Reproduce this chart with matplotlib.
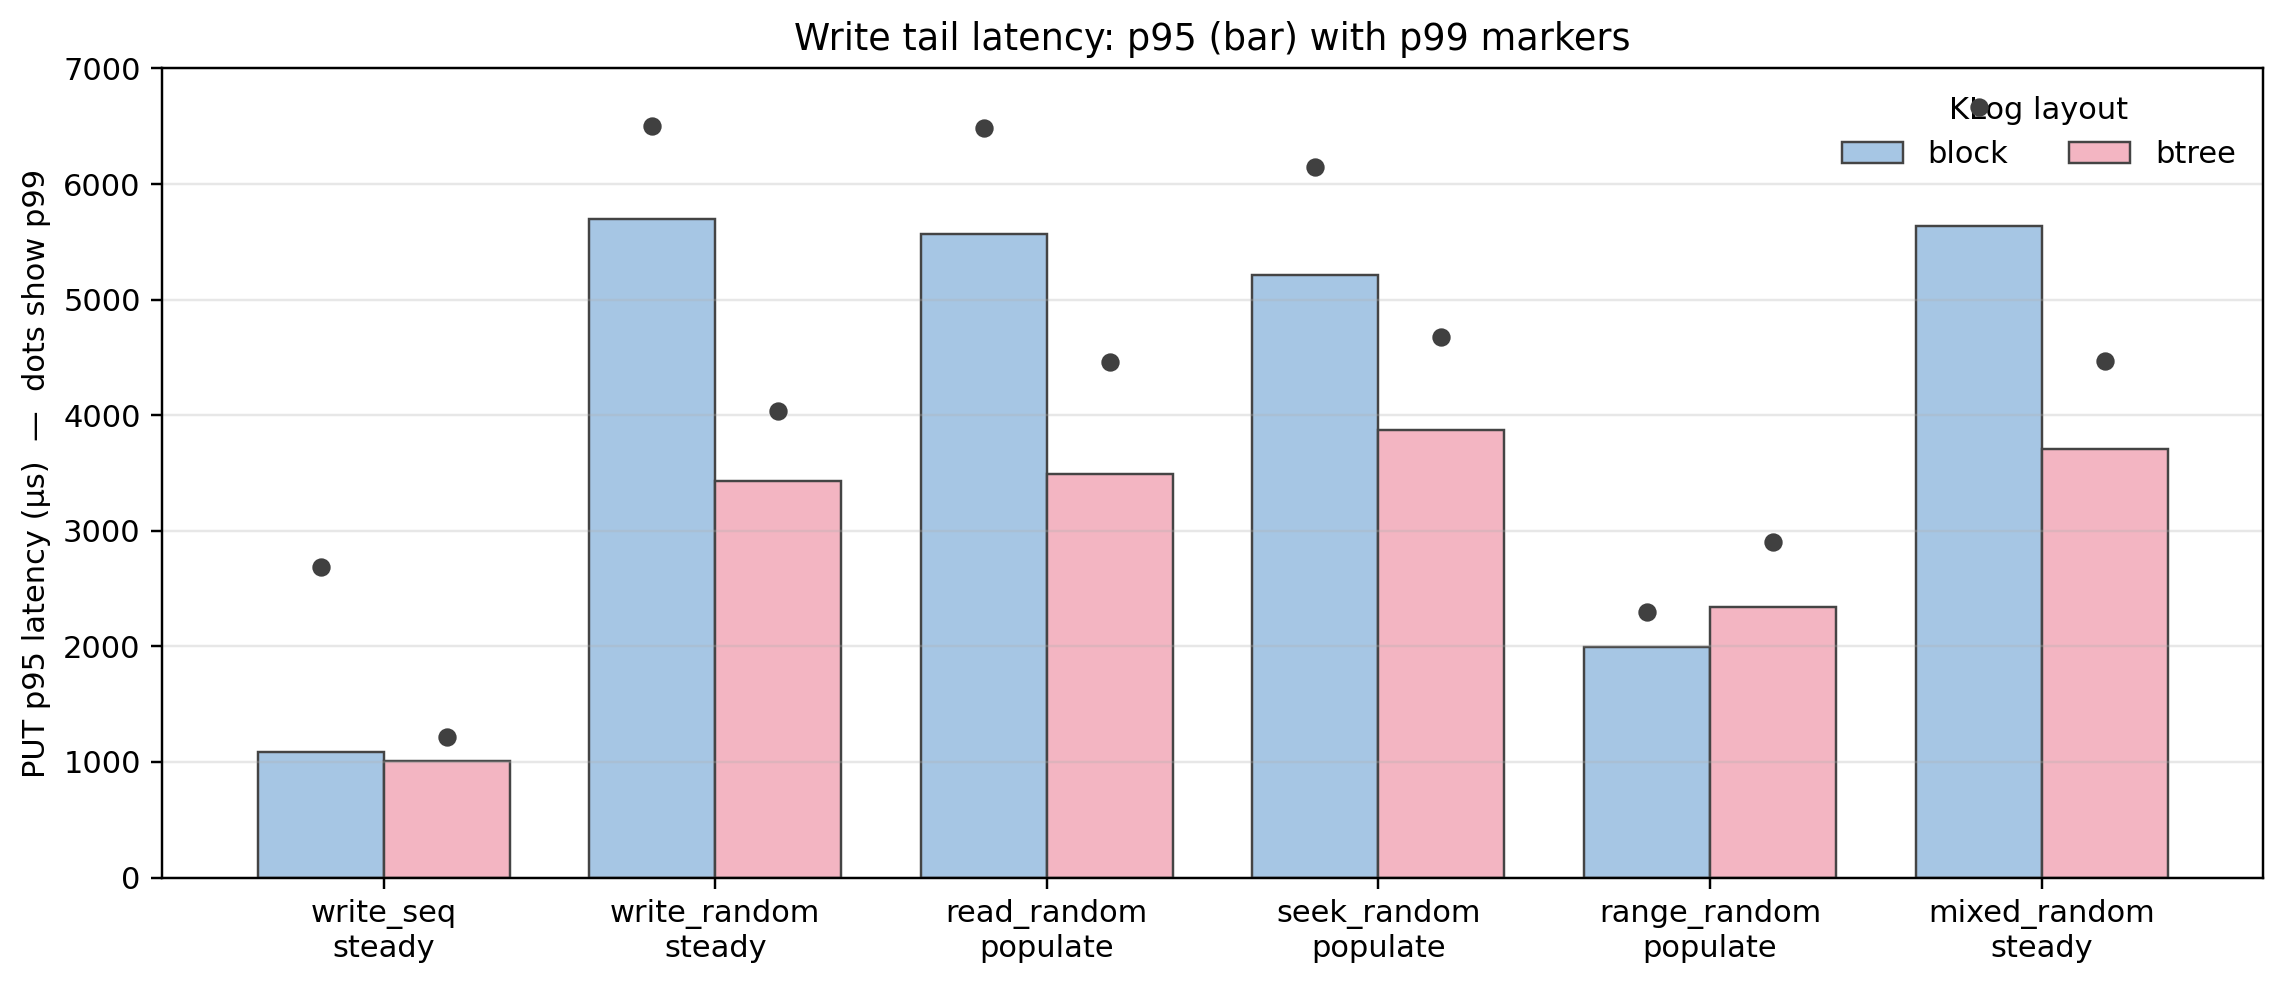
import matplotlib.pyplot as plt
import numpy as np

workloads = ['write_seq\nsteady', 'write_random\nsteady', 'read_random\npopulate',
             'seek_random\npopulate', 'range_random\npopulate', 'mixed_random\nsteady']
layouts = ['block', 'btree']

# p95 (bars) and p99 (dots), microseconds
p95_block = [1090, 5700, 5570, 5210, 1995, 5640]
p95_btree = [1010, 3430, 3490, 3870, 2340, 3710]
p99_block = [2690, 6500, 6485, 6150, 2300, 6665]
p99_btree = [1220, 4040, 4460, 4680, 2900, 4470]

colors = {'block': '#a6c6e4', 'btree': '#f3b5c2'}

fig, ax = plt.subplots(figsize=(2286 / 220, 985 / 220), dpi=220)
fig.subplots_adjust(left=0.0709, right=0.990, top=0.9305, bottom=0.1091)

x = np.arange(len(workloads))
width = 0.38

ax.bar(x - width / 2, p95_block, width, color=colors['block'], edgecolor='#444444',
       linewidth=0.8, label=layouts[0])
ax.bar(x + width / 2, p95_btree, width, color=colors['btree'], edgecolor='#444444',
       linewidth=0.8, label=layouts[1])

# p99 markers on top of each bar
ax.plot(x - width / 2, p99_block, 'o', color='#404040', markersize=5, linestyle='none', zorder=6)
ax.plot(x + width / 2, p99_btree, 'o', color='#404040', markersize=5, linestyle='none', zorder=6)

ax.set_xticks(x)
ax.set_xticklabels(workloads)
ax.set_ylim(0, 7000)
ax.set_ylabel('PUT p95 latency (µs)  —  dots show p99')
ax.set_title('Write tail latency: p95 (bar) with p99 markers', fontsize=12)
ax.grid(axis='y', alpha=0.3)

ax.legend(title='KLog layout', loc='upper right', ncol=2, frameon=False)

fig.savefig('out.png', dpi=220)
